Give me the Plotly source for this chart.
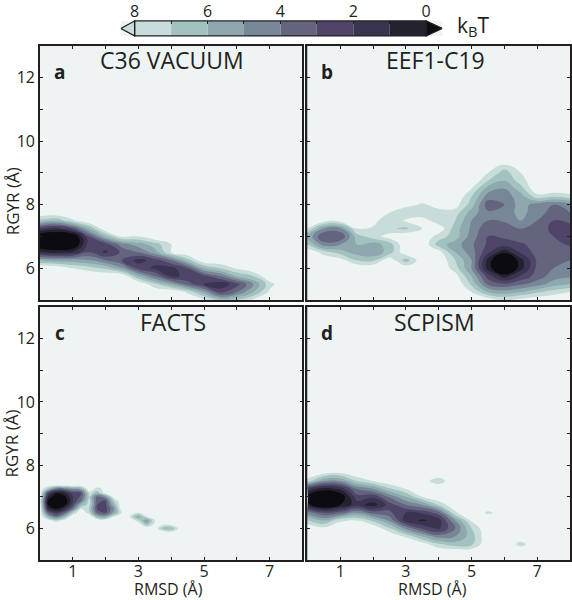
import plotly.graph_objects as go

W, H = 572, 600
N = 9  # free energy above the top colour level (background)

# ---------- panel a: C36 VACUUM ----------
a_x = [0, .5, 1, 1.5, 2, 2.5, 3, 3.5, 4, 4.5, 5, 5.5, 6, 6.5, 7, 7.5, 8]
a_y = [13, 8, 7.75, 7.5, 7.25, 7, 6.75, 6.5, 6.25, 6, 5.75, 5.5, 5.25, 5]
a_z = [
    [N, N, N, N, N, N, N, N, N, N, N, N, N, N, N, N, N],
    [N, N, N, N, N, N, N, N, N, N, N, N, N, N, N, N, N],
    [N, N, N, N, N, N, N, N, N, N, N, N, N, N, N, N, N],
    [6.8, 6.2, 7.8, N, N, N, N, N, N, N, N, N, N, N, N, N, N],
    [2.2, 1.6, 3, 6, N, N, N, N, N, N, N, N, N, N, N, N, N],
    [-1.5, -2, -1.5, 3, 6, 8.2, 8, N, N, N, N, N, N, N, N, N, N],
    [-1.5, -2, -1.5, 2.5, 2.5, 4.5, 5.5, 6.5, 8, N, N, N, N, N, N, N, N],
    [1.2, .8, 1.2, 3, 1.8, 3.2, 4, 5.5, 8, N, N, N, N, N, N, N, N],
    [6, 5.5, 5.5, 5, 4, 3, 1.6, 2.4, 4, 6.5, N, N, N, N, N, N, N],
    [N, N, 8, 7.5, 6.8, 5.2, 2.6, 1.8, 1.6, 3, 6, 7, 8.2, N, N, N, N],
    [N, N, N, N, N, N, 6, 4, 1.8, 2.2, 2.6, 4, 6, 7, N, N, N],
    [N, N, N, N, N, N, N, 7.2, 5.5, 3.5, 2, 1.3, 2.6, 5, 7.6, N, N],
    [N, N, N, N, N, N, N, N, N, 7.8, 5.5, 2.6, 4, 6, 8.2, N, N],
    [N, N, N, N, N, N, N, N, N, N, 8.3, 6.5, 7, 8.2, N, N, N],
]

# ---------- panel b: EEF1-C19 ----------
b_x = [0, .5, 1, 1.5, 2, 2.5, 3, 3.5, 4, 4.5, 5, 5.5, 6, 6.5, 7, 7.5, 8]
b_y = [13, 9.5, 9.25, 9, 8.75, 8.5, 8.25, 8, 7.75, 7.5, 7.25, 7, 6.75, 6.5, 6.25, 6, 5.75, 5.5, 5.25, 5]
b_z = [
    [N, N, N, N, N, N, N, N, N, N, N, N, N, N, N, N, N],
    [N, N, N, N, N, N, N, N, N, N, N, N, N, N, N, N, N],
    [N, N, N, N, N, N, N, N, N, N, N, N, 7.8, N, N, N, N],
    [N, N, N, N, N, N, N, N, N, N, N, 8, 6.5, 8, N, N, N],
    [N, N, N, N, N, N, N, N, N, N, N, 7, 6, 7.5, N, N, N],
    [N, N, N, N, N, N, N, N, N, N, 8, 5.5, 5, 6.5, N, N, N],
    [N, N, N, N, N, N, N, N, N, N, 7, 4.5, 4.5, 5.5, 7.5, 7, 7.5],
    [N, N, N, N, N, N, 8.5, 7.8, 8.5, 8.5, 6.5, 3.4, 4, 5.5, 4.5, 4, 4.5],
    [N, N, N, N, N, 8, 7, 7, 7.5, 7.5, 5.5, 4.2, 4.2, 5.5, 4.2, 3.8, 4],
    [N, 8.5, 8.5, N, 8.5, 7, 8.2, 8.6, 7.2, 7, 5, 4, 4.2, 5, 4, 3, 3.3],
    [8, 5, 4.8, 8, 7.8, 7.2, 6.8, 8, 8.8, 6.5, 4.8, 3.2, 3.2, 4, 4, 2.5, 2.5],
    [6, 2.8, 3, 6.5, 7.5, 8.5, N, N, 7.5, 6.5, 4.5, 3, 3.2, 3.6, 3.8, 3, 2.5],
    [7, 4.5, 5, 6, 5.5, 6.5, N, N, 6.5, 5.5, 4.2, 2.8, 2.5, 2.8, 3.5, 3.5, 2.8],
    [N, 7.5, 6.5, 5.5, 5.2, 6.5, 8.8, N, 8.5, 6, 4.5, 2.2, .2, 2.2, 3.4, 3.8, 3.8],
    [N, N, 8.5, 7, 6.8, 8.8, 6.5, 8.8, N, 7, 5, .6, -2, .6, 3.2, 3.8, 4],
    [N, N, N, N, N, N, 8.8, N, N, 7.5, 5, .6, -2, .6, 3.3, 4, 4.2],
    [N, N, N, N, N, N, N, N, N, 8.5, 6, 2.5, .5, 2.2, 3.5, 4.5, 4.8],
    [N, N, N, N, N, N, N, N, N, N, 6.8, 3.8, 3.2, 3.8, 4.5, 5.5, 6],
    [N, N, N, N, N, N, N, N, N, N, 8, 6, 5.5, 6, 6.8, 7.5, 8],
    [N, N, N, N, N, N, N, N, N, N, N, 8.8, 8, 8.4, 8.8, N, N],
]

# ---------- panel c: FACTS ----------
c_x = [0, .25, .5, .75, 1, 1.25, 1.5, 1.75, 2, 2.25, 2.5, 2.75, 3, 3.25, 3.5, 3.75, 4, 4.25, 8]
c_y = [13, 7.5, 7.375, 7.25, 7.125, 7, 6.875, 6.75, 6.625, 6.5, 6.375, 6.25, 6.125, 6, 5.875, 5]
c_z = [
    [N, N, N, N, N, N, N, N, N, N, N, N, N, N, N, N, N, N, N],
    [N, N, N, N, N, N, N, N, N, N, N, N, N, N, N, N, N, N, N],
    [N, N, 8.5, N, N, N, N, N, N, N, N, N, N, N, N, N, N, N, N],
    [N, 6.5, 4, 4, 5, 5.5, N, 7.5, 8.5, N, N, N, N, N, N, N, N, N, N],
    [N, 2.5, .2, .8, 2.5, 3, 7.5, 6.5, 8.5, N, N, N, N, N, N, N, N, N, N],
    [N, 1, -1, -.3, 2, 3.2, 7, 3.5, 5, 8.5, N, N, N, N, N, N, N, N, N],
    [8.5, -.2, -2, -1, 2, 4, 7.5, 3.2, 3, 7, N, N, N, N, N, N, N, N, N],
    [8.8, 0, -1.5, -.5, 2.5, 6, 7.5, 3, 2.8, 6, N, N, N, N, N, N, N, N, N],
    [N, 1.2, -.2, 1.2, 4, 8, 7, 2.8, 2.5, 5, N, N, N, N, N, N, N, N, N],
    [N, 3.5, 2, 3.5, 7, N, 7.5, 3.5, 3, 5.5, 8.2, N, 8, N, N, N, N, N, N],
    [N, 6, 4, 6, N, N, N, 6, 5.5, 8, N, 8, 5.5, 8, N, N, N, N, N],
    [N, 8.5, 7.5, 8.5, N, N, N, N, 8.8, N, N, N, 7.5, 5, 8, N, N, N, N],
    [N, N, N, N, N, N, N, N, N, N, N, N, N, 6.5, 8.4, 8.2, 8.5, N, N],
    [N, N, N, N, N, N, N, N, N, N, N, N, N, N, N, 6.5, 6, 8.5, N],
    [N, N, N, N, N, N, N, N, N, N, N, N, N, N, N, N, 8.5, 8.5, N],
    [N, N, N, N, N, N, N, N, N, N, N, N, N, N, N, N, N, N, N],
]

# ---------- panel d: SCPISM ----------
d_x = [0, .5, 1, 1.5, 2, 2.5, 3, 3.5, 4, 4.5, 5, 5.5, 6, 6.5, 7, 7.5, 8]
d_y = [13, 8, 7.75, 7.5, 7.25, 7, 6.75, 6.5, 6.25, 6, 5.75, 5.5, 5.25, 5]
d_z = [
    [N, N, N, N, N, N, N, N, N, N, N, N, N, N, N, N, N],
    [N, N, N, N, N, N, N, N, N, N, N, N, N, N, N, N, N],
    [N, 8.3, 8, N, N, N, N, N, N, N, N, N, N, N, N, N, N],
    [7.5, 5, 5, 7, 8, 8.9, N, 8.5, 7.4, N, N, N, N, N, N, N, N],
    [1.8, .4, 1.2, 4, 5, 6.8, 8, N, N, N, N, N, N, N, N, N, N],
    [-.6, -2, -1, 2.5, 2.2, 4.2, 6, 8, N, N, N, N, N, N, N, N, N],
    [.3, -1.5, 0, 1.5, .5, 2.5, 4, 5, 7.2, N, N, N, N, N, N, N, N],
    [4.5, 3, 3.5, 5, 3.5, 3.2, 2, 2.2, 3.5, 7.8, N, 7.8, 8.5, N, N, N, N],
    [7.2, 6, 7.8, 8, 6.8, 4.8, 1.5, .8, 1.5, 5, 8.2, N, N, N, N, N, N],
    [N, 8.4, N, N, N, 7.2, 4.8, 2.8, 1.8, 4, 7, N, N, N, N, N, N],
    [N, N, N, N, N, N, 7.8, 6, 4.5, 5, 6.5, N, 8.2, 8.8, N, N, N],
    [N, N, N, N, N, N, N, 8.6, 7.2, 6.5, 6.8, N, N, 7.6, N, N, N],
    [N, N, N, N, N, N, N, N, N, N, N, N, N, N, N, N, N],
    [N, N, N, N, N, N, N, N, N, N, N, N, N, N, N, N, N],
]

panel_titles = ["C36 VACUUM", "EEF1-C19", "FACTS", "SCPISM"]
panel_letters = ["a", "b", "c", "d"]
x_ticks = [1, 2, 3, 4, 5, 6, 7]
x_labels = ["1", "", "3", "", "5", "", "7"]
y_ticks = [6, 7, 8, 9, 10, 11, 12]
y_labels = ["6", "", "8", "", "10", "", "12"]

# colour levels, from below 0 up to above 8
band_colors = ["#0c0c10", "#25222f", "#3a3450", "#4e4568", "#65647f",
               "#778798", "#8ea8ae", "#a2c2c0", "#c8dcda", "#eef4f4"]
bar_levels = [0, 1, 2, 3, 4, 5, 6, 7]
bar_ticks = [0, 2, 4, 6, 8]
FONT = "Open Sans"
INK = "#231f20"

# pixel boxes: left, right, top, bottom
boxes = [(40, 303, 44, 299), (308, 571, 44, 299), (40, 303, 306, 560), (308, 571, 306, 560)]
title_centers = [172, 436, 173, 435]
title_tops = [58, 58, 321, 321]
grids = [(a_x, a_y, a_z), (b_x, b_y, b_z), (c_x, c_y, c_z), (d_x, d_y, d_z)]

scale = []
for i, c in enumerate(band_colors):
    scale += [[i / 10, c], [(i + 1) / 10, c]]

fig = go.Figure()
layout = dict(
    width=W, height=H, margin=dict(l=0, r=0, t=0, b=0), autosize=False,
    paper_bgcolor="white", plot_bgcolor=band_colors[-1], showlegend=False,
    font=dict(family=FONT, color=INK, size=16),
)
annotations = []


def px(xp, yp):
    return dict(x=xp / W, y=1 - yp / H, xref="paper", yref="paper", showarrow=False,
                xanchor="center", yanchor="middle")


for i, (box, g) in enumerate(zip(boxes, grids)):
    l, r, t, b = box
    s = "" if i == 0 else str(i + 1)
    fig.add_trace(go.Contour(
        x=g[0], y=g[1], z=g[2], xaxis="x" + s, yaxis="y" + s,
        colorscale=scale, zmin=-1, zmax=9, showscale=False,
        contours=dict(start=0, end=8, size=1, coloring="fill", showlines=False),
        line=dict(width=0, smoothing=1.3), hoverinfo="skip",
    ))
    layout["xaxis" + s] = dict(
        domain=[l / W, r / W], range=[0, 8], anchor="y" + s,
        tickvals=x_ticks, ticktext=x_labels if i >= 2 else [""] * 7,
        ticks="inside", ticklen=3, tickwidth=1, tickcolor=INK, ticklabelstandoff=-4,
        showline=True, linecolor=INK, linewidth=1.6, mirror="allticks",
        showgrid=False, zeroline=False, tickfont=dict(size=16, family=FONT),
    )
    layout["yaxis" + s] = dict(
        domain=[1 - b / H, 1 - t / H], range=[5, 13], anchor="x" + s,
        tickvals=y_ticks, ticktext=y_labels if i % 2 == 0 else [""] * 7,
        ticks="inside", ticklen=3, tickwidth=1, tickcolor=INK,
        showline=True, linecolor=INK, linewidth=1.6, mirror="allticks",
        showgrid=False, zeroline=False, tickfont=dict(size=16, family=FONT),
    )
    annotations.append(dict(text=panel_titles[i], font=dict(size=23), **px(title_centers[i], title_tops[i])))
    annotations.append(dict(text="<b>%s</b>" % panel_letters[i], font=dict(size=19), **px(l + 20, t + 26)))

for xp in (169, 433):
    annotations.append(dict(text="RMSD (Å)", font=dict(size=16), **px(xp, 589)))
for yp in (200, 443):
    annotations.append(dict(text="RGYR (Å)", textangle=-90, font=dict(size=17), **px(12, yp)))
annotations.append(dict(text="k<sub>B</sub>T", font=dict(size=21), **px(474, 24)))

# colour key as its own small axes, running from 8 down to 0
fig.add_trace(go.Bar(
    y=["k"] * len(bar_levels), x=[1] * len(bar_levels), base=bar_levels, orientation="h",
    marker=dict(color=band_colors[1:9], line=dict(width=0)), width=1,
    xaxis="x5", yaxis="y5", hoverinfo="skip",
))
layout["barmode"] = "overlay"
layout["xaxis5"] = dict(
    domain=[121 / W, 443 / W], range=[8.38, -0.44], anchor="y5", side="top",
    tickvals=bar_levels + [8], ticktext=[str(v) if v in bar_ticks else "" for v in bar_levels + [8]],
    ticks="inside", ticklen=3, tickwidth=1, tickcolor=INK, showgrid=False, zeroline=False,
    showline=False, tickfont=dict(size=16, family=FONT),
)
layout["yaxis5"] = dict(domain=[1 - 34 / H, 1 - 19 / H], anchor="x5", showticklabels=False,
                        ticks="", showgrid=False, zeroline=False, showline=False)
layout["shapes"] = [
    dict(type="path", xref="x5", yref="y5 domain",
         path="M 8 0 L 8.38 0.5 L 8 1 Z", fillcolor=band_colors[8], line=dict(color=INK, width=1.2)),
    dict(type="path", xref="x5", yref="y5 domain",
         path="M 0 0 L -0.44 0.5 L 0 1 Z", fillcolor=band_colors[0], line=dict(color=INK, width=1.2)),
    dict(type="rect", xref="x5", yref="y5 domain", x0=8, x1=0, y0=0, y1=1,
         line=dict(color=INK, width=1.2), fillcolor="rgba(0,0,0,0)"),
]
layout["annotations"] = annotations
fig.update_layout(**layout)
fig.write_html("out.html", config=dict(displayModeBar=False),
               post_script="document.body.style.margin='0';")
